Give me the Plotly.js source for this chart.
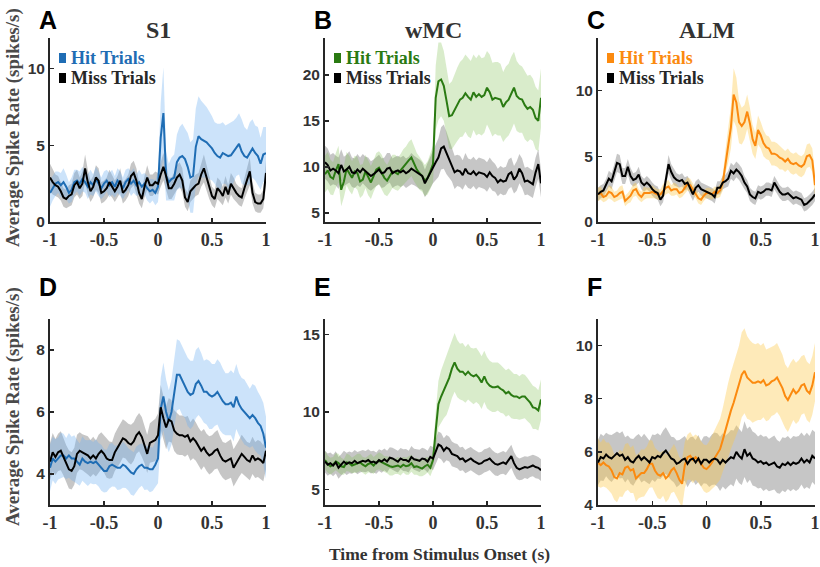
<!DOCTYPE html>
<html><head><meta charset="utf-8">
<script src="https://cdn.plot.ly/plotly-3.0.1.min.js"></script>
<style>html,body{margin:0;padding:0;background:#fff;}#chart{width:820px;height:567px;}</style>
</head><body><div id="chart"></div>
<script>
// ---- time grid (s) ----
const timeS = Array.from({length:81}, (_,k)=> +(-1+0.025*k).toFixed(3));

// ---- S1 (A, D) ----
const S1_top_hit = [1.9,2.2,2.5,2.6,2.4,2.6,2.3,1.9,2.1,2.6,2.7,2.5,2.8,2.6,2.3,2.6,2.4,2.8,2.5,2.2,2.5,2.7,2.4,2.6,2.3,2.7,2.5,2.2,2.6,2.8,2.5,2.7,2.4,2.6,2.3,2.5,2.2,2.0,2.1,1.9,2.3,5.5,7.1,3.0,2.6,2.8,2.9,3.9,4.2,4.3,4.1,3.6,2.9,3.0,4.9,5.6,5.4,5.3,5.2,5.0,4.8,4.5,4.3,4.2,4.5,4.4,4.3,4.35,4.6,4.9,5.1,4.6,4.3,4.2,4.5,4.8,4.5,4.3,3.8,4.4,4.5];
const S1_top_hitSem = [0.9,0.8,0.8,0.7,0.8,0.9,0.8,0.7,0.8,0.8,0.7,0.8,0.8,0.7,0.8,0.8,0.7,0.8,0.8,0.7,0.8,0.7,0.8,0.8,0.7,0.8,0.8,0.7,0.8,0.7,0.8,0.8,0.7,0.8,0.8,0.7,0.8,0.8,0.7,0.8,1.0,2.3,3.0,1.6,1.2,1.4,1.5,1.8,2.0,2.1,2.0,2.2,2.3,2.4,2.5,2.6,2.5,2.4,2.3,2.2,2.1,2.0,2.1,2.2,2.0,1.9,2.1,2.2,2.0,1.9,2.0,2.1,1.9,1.8,2.0,1.9,1.8,1.9,1.7,1.8,1.7];
const S1_top_miss = [2.9,2.6,2.4,2.3,2.0,1.6,1.5,1.7,1.8,2.4,2.6,2.2,2.5,3.5,2.6,2.0,2.3,2.9,2.7,1.9,2.0,2.2,2.6,2.3,2.0,2.3,2.7,1.9,2.1,2.4,3.0,3.2,2.7,1.9,1.5,2.3,2.9,2.4,2.4,2.6,2.5,3.1,3.6,3.0,2.2,2.2,2.5,2.9,3.1,2.7,1.6,1.3,2.0,2.2,2.4,2.5,3.1,3.5,2.9,2.2,1.7,1.5,2.2,2.0,1.7,2.3,1.8,2.5,2.2,1.9,1.7,1.6,2.2,2.8,3.3,1.9,1.3,1.2,1.2,1.5,3.2];
const S1_top_missSem = [0.9,0.8,0.7,0.7,0.6,0.6,0.6,0.7,0.7,0.8,0.8,0.7,0.8,0.9,0.8,0.7,0.7,0.8,0.8,0.7,0.7,0.7,0.8,0.7,0.7,0.7,0.8,0.7,0.7,0.7,0.8,0.8,0.8,0.7,0.6,0.7,0.8,0.7,0.7,0.7,0.7,0.8,0.9,0.8,0.7,0.7,0.7,0.8,0.8,0.8,0.6,0.6,0.7,0.7,0.7,0.7,0.8,0.9,0.8,0.7,0.6,0.6,0.7,0.7,0.6,0.7,0.6,0.7,0.7,0.6,0.6,0.6,0.7,0.8,0.9,0.7,0.6,0.6,0.6,0.6,0.8];

const S1_bot_hit = [4.2,4.5,4.4,4.5,4.6,4.6,4.5,4.6,4.5,4.5,4.4,4.3,4.5,4.4,4.35,4.4,4.35,4.4,4.3,4.2,4.1,4.1,4.25,4.3,4.25,4.2,4.2,4.3,4.25,4.15,4.05,4.0,4.15,4.25,4.3,4.2,4.2,4.15,4.15,4.3,4.5,6.1,6.5,6.0,5.7,6.0,6.6,7.2,7.2,7.0,6.85,6.65,6.55,6.6,6.9,7.0,6.85,6.65,6.65,6.55,6.5,6.55,6.65,6.5,6.35,6.25,6.25,6.3,6.15,6.5,6.25,6.1,6.0,5.9,5.8,5.9,5.8,5.65,5.55,5.3,4.85];
const S1_bot_hitSem = [0.75,0.7,0.72,0.68,0.74,0.7,0.66,0.72,0.7,0.75,0.7,0.68,0.72,0.7,0.74,0.7,0.68,0.72,0.7,0.74,0.7,0.68,0.72,0.7,0.66,0.72,0.7,0.74,0.7,0.68,0.72,0.7,0.74,0.7,0.68,0.72,0.7,0.74,0.7,0.72,0.8,1.0,1.1,1.05,1.0,1.05,1.1,1.15,1.1,1.1,1.05,1.1,1.1,1.05,1.1,1.1,1.05,1.0,1.05,1.1,1.05,1.0,1.05,1.1,1.05,1.0,1.0,1.05,1.1,1.05,1.0,1.0,1.05,1.0,0.95,1.0,1.05,1.0,0.95,1.0,1.0];
const S1_bot_miss = [4.4,4.7,4.55,4.7,4.75,4.55,4.35,4.15,4.1,4.25,4.65,4.75,4.7,4.65,4.6,4.5,4.6,4.5,4.65,4.75,4.65,4.5,4.45,4.45,4.7,4.85,5.0,5.15,5.1,5.0,4.95,5.05,5.25,5.35,5.2,4.95,4.65,5.0,5.05,5.1,5.25,6.15,5.8,5.5,5.75,5.7,5.4,5.3,5.25,5.25,5.2,5.25,5.05,5.15,5.05,4.9,4.75,4.85,4.7,4.6,4.65,4.75,4.8,4.6,4.45,4.4,4.45,4.5,4.2,4.35,4.5,4.65,4.55,4.45,4.4,4.6,4.45,4.5,4.45,4.35,4.75];
const S1_bot_missSem = [0.6,0.62,0.58,0.6,0.63,0.6,0.58,0.62,0.6,0.6,0.62,0.6,0.58,0.6,0.62,0.6,0.6,0.58,0.62,0.6,0.6,0.62,0.6,0.58,0.6,0.62,0.64,0.62,0.6,0.62,0.64,0.62,0.6,0.62,0.64,0.6,0.62,0.64,0.66,0.68,0.7,0.72,0.72,0.7,0.7,0.68,0.66,0.66,0.64,0.64,0.64,0.62,0.62,0.64,0.62,0.6,0.62,0.6,0.6,0.62,0.6,0.6,0.62,0.6,0.58,0.6,0.6,0.62,0.6,0.58,0.6,0.62,0.6,0.58,0.6,0.6,0.58,0.6,0.6,0.58,0.6];

// ---- wMC (B, E) ----
const wMC_top_hit = [9.2,9.6,8.9,8.7,9.6,10.3,7.5,8.4,9.8,9.3,8.8,9.5,9.3,8.4,8.6,9.5,8.8,8.3,9.0,9.7,9.9,9.4,8.8,8.5,9.0,9.5,9.4,9.2,9.6,10.0,10.3,10.7,11.0,10.3,9.7,9.3,9.0,8.5,8.8,9.5,10.3,17.5,19.3,19.5,18.8,17.2,15.5,15.6,16.2,16.8,17.3,17.5,18.0,17.6,17.3,18.1,17.6,17.9,17.6,17.8,18.6,18.1,17.3,17.5,17.4,17.3,16.5,17.0,17.3,18.0,18.6,17.7,17.4,17.3,16.7,16.3,16.5,16.2,15.3,15.0,17.5];
const wMC_top_hitSem = [2.0,2.0,1.9,1.8,1.9,2.0,1.8,1.7,1.8,1.9,1.8,1.7,1.8,1.8,1.7,1.8,1.9,1.8,1.7,1.8,1.8,1.9,1.8,1.7,1.8,1.8,1.9,1.8,1.8,1.9,1.9,2.0,2.0,1.9,1.8,1.8,1.7,1.7,1.8,1.9,2.0,3.5,4.2,4.0,3.8,3.6,3.5,3.7,3.9,4.0,4.1,4.2,4.2,4.3,4.2,4.1,4.2,4.3,4.2,4.1,4.0,4.1,4.0,3.9,4.0,3.9,3.8,3.9,3.9,4.0,3.9,3.8,3.7,3.6,3.7,3.6,3.5,3.4,3.4,3.3,3.2];
const wMC_top_miss = [10.5,10.2,9.6,9.8,9.6,9.3,10.2,9.5,9.7,10.0,9.4,9.3,9.7,9.4,9.8,9.5,9.3,9.0,9.2,9.5,9.7,9.3,9.4,9.8,9.9,9.3,9.5,9.6,9.4,9.6,9.3,9.5,9.8,9.6,9.4,9.2,9.0,8.2,8.8,9.4,10.0,10.5,11.0,12.0,12.2,11.5,10.9,10.3,9.4,9.6,9.5,9.1,9.8,9.3,9.2,9.5,9.1,9.4,9.3,9.2,8.9,9.4,9.0,8.8,8.3,8.6,8.4,8.5,9.2,9.4,8.6,9.0,9.8,9.3,8.4,8.5,8.3,8.1,9.4,10.3,8.2];
const wMC_top_missSem = [1.8,1.8,1.7,1.7,1.6,1.7,1.7,1.6,1.6,1.7,1.6,1.6,1.7,1.6,1.6,1.6,1.7,1.6,1.6,1.6,1.6,1.6,1.6,1.7,1.6,1.6,1.6,1.6,1.6,1.6,1.6,1.6,1.7,1.6,1.6,1.6,1.5,1.5,1.6,1.7,1.8,1.9,2.1,2.3,2.4,2.3,2.1,1.9,1.8,1.7,1.7,1.6,1.7,1.6,1.6,1.6,1.6,1.6,1.6,1.6,1.6,1.6,1.6,1.5,1.5,1.5,1.5,1.5,1.6,1.6,1.5,1.6,1.6,1.6,1.5,1.5,1.5,1.5,1.6,1.6,1.5];

const wMC_bot_hit = [6.9,6.65,6.5,6.6,6.8,6.7,6.5,6.45,6.75,6.7,6.55,6.6,6.7,6.75,6.6,6.5,6.65,6.7,6.55,6.75,6.85,6.75,6.65,6.6,6.5,6.45,6.5,6.55,6.45,6.6,6.5,6.55,6.7,6.45,6.5,6.4,6.35,6.5,6.6,6.4,6.9,8.8,10.5,11.0,11.4,11.7,12.2,12.8,13.2,12.8,12.6,12.6,12.4,12.6,12.4,12.3,12.4,12.2,11.9,12.3,11.9,11.7,11.6,11.6,11.65,11.5,11.4,11.2,11.3,11.1,11.0,11.0,10.9,11.0,11.0,10.8,10.6,10.3,10.25,10.1,10.8];
const wMC_bot_hitSem = [0.6,0.55,0.55,0.5,0.55,0.6,0.55,0.5,0.55,0.55,0.5,0.55,0.6,0.55,0.5,0.55,0.55,0.6,0.55,0.5,0.55,0.55,0.5,0.55,0.6,0.55,0.5,0.55,0.55,0.5,0.55,0.6,0.55,0.5,0.55,0.55,0.5,0.55,0.5,0.55,0.6,1.2,1.5,1.7,1.8,1.9,1.9,1.9,1.9,1.85,1.8,1.85,1.8,1.8,1.75,1.8,1.75,1.7,1.7,1.65,1.65,1.6,1.6,1.6,1.55,1.55,1.5,1.5,1.5,1.5,1.45,1.45,1.4,1.45,1.4,1.4,1.35,1.4,1.35,1.3,1.3];
const wMC_bot_miss = [6.8,6.6,6.7,6.55,6.75,6.4,6.6,6.8,6.65,6.75,6.7,6.85,6.7,6.8,6.85,6.8,6.9,6.75,6.8,6.7,6.9,6.8,6.95,6.8,7.05,7.0,6.9,6.8,7.0,6.9,6.9,6.8,7.1,6.95,6.9,6.85,7.0,6.95,6.8,7.1,7.0,7.4,7.9,7.8,7.5,7.7,7.6,7.3,7.2,7.15,6.95,7.0,6.8,6.9,7.0,6.85,6.75,6.65,6.7,6.85,6.9,7.0,6.8,6.65,6.6,6.7,6.75,6.65,6.9,7.15,6.7,6.4,6.3,6.35,6.45,6.4,6.5,6.55,6.45,6.4,6.25];
const wMC_bot_missSem = [0.7,0.72,0.68,0.7,0.72,0.7,0.68,0.7,0.72,0.7,0.68,0.7,0.72,0.7,0.7,0.68,0.7,0.72,0.7,0.68,0.7,0.72,0.7,0.7,0.68,0.7,0.72,0.7,0.68,0.7,0.72,0.7,0.7,0.68,0.7,0.72,0.7,0.68,0.7,0.72,0.75,0.8,0.85,0.85,0.8,0.82,0.8,0.8,0.78,0.78,0.76,0.76,0.75,0.76,0.75,0.74,0.75,0.74,0.74,0.75,0.74,0.74,0.73,0.74,0.73,0.72,0.74,0.73,0.72,0.74,0.72,0.72,0.7,0.72,0.7,0.72,0.7,0.7,0.72,0.7,0.7];

// ---- ALM (C, F) ----
const ALM_top_hit = [2.1,2.2,1.9,2.0,2.3,2.2,1.9,2.0,2.2,2.3,1.6,1.8,2.0,2.4,2.5,2.1,1.9,2.2,2.2,2.2,2.3,2.2,2.1,2.1,2.4,2.6,2.7,2.4,2.5,2.5,2.2,2.3,2.6,2.9,2.8,2.5,2.2,1.8,1.7,2.0,2.2,2.2,2.1,2.3,2.2,2.4,3.0,4.6,5.8,7.2,9.7,9.1,7.6,7.3,7.6,8.4,7.5,6.3,5.8,7.0,6.6,6.0,5.7,5.6,5.2,5.2,5.1,4.9,4.8,4.6,4.8,4.5,4.4,4.5,4.3,4.2,4.4,5.0,5.1,4.7,2.8];
const ALM_top_hitSem = [0.5,0.5,0.4,0.4,0.5,0.5,0.4,0.4,0.5,0.5,0.4,0.4,0.5,0.5,0.5,0.4,0.4,0.5,0.4,0.4,0.5,0.4,0.4,0.4,0.5,0.5,0.5,0.4,0.5,0.4,0.4,0.4,0.5,0.5,0.5,0.4,0.4,0.4,0.4,0.4,0.4,0.4,0.4,0.4,0.4,0.5,0.6,0.9,1.3,1.6,2.0,1.9,1.6,1.4,1.3,1.3,1.2,1.1,1.0,1.1,1.0,1.0,0.9,0.9,0.9,0.9,0.9,0.9,0.8,0.8,0.8,0.8,0.8,0.8,0.8,0.8,0.8,0.9,0.9,0.9,0.9];
const ALM_top_miss = [2.1,2.3,2.4,2.8,3.3,3.1,3.8,4.5,4.4,3.5,3.5,4.2,3.5,3.2,3.3,3.6,3.0,2.8,3.0,2.8,2.5,2.3,2.2,1.7,2.0,3.3,4.4,3.8,3.4,3.2,3.1,3.2,2.9,3.0,2.6,2.1,2.6,2.8,2.5,2.4,2.3,2.2,2.1,1.9,2.6,2.6,3.0,3.1,3.3,3.9,3.7,4.0,3.8,3.5,3.0,2.7,2.1,1.9,1.8,2.3,2.2,2.3,2.5,2.5,2.4,3.0,2.6,2.3,2.1,2.1,2.2,2.0,1.8,1.9,1.8,1.7,1.3,1.4,1.6,1.8,2.1];
const ALM_top_missSem = [0.5,0.5,0.5,0.5,0.6,0.6,0.6,0.7,0.7,0.6,0.6,0.6,0.6,0.5,0.5,0.6,0.5,0.5,0.5,0.5,0.5,0.5,0.5,0.5,0.5,0.6,0.7,0.6,0.6,0.5,0.5,0.5,0.5,0.5,0.5,0.5,0.5,0.5,0.5,0.5,0.5,0.5,0.5,0.5,0.5,0.5,0.5,0.5,0.6,0.6,0.6,0.6,0.6,0.6,0.5,0.5,0.5,0.5,0.5,0.5,0.5,0.5,0.5,0.5,0.5,0.5,0.5,0.5,0.5,0.5,0.5,0.5,0.5,0.5,0.5,0.5,0.5,0.5,0.5,0.5,0.5];

const ALM_bot_hit = [5.6,5.5,5.6,5.5,5.45,5.3,5.05,5.0,5.2,5.15,5.4,5.45,5.3,5.35,5.0,5.1,5.2,5.2,5.35,5.55,5.55,5.3,5.15,5.1,5.2,5.0,5.1,5.3,5.4,5.2,4.95,4.8,5.5,5.8,5.85,5.7,5.8,5.7,5.55,5.4,5.35,5.45,5.6,5.75,5.9,6.1,6.45,6.85,7.2,7.55,7.85,8.2,8.45,8.9,9.05,8.8,8.7,8.6,8.6,8.65,8.6,8.7,8.5,8.55,8.65,8.7,8.8,8.6,8.4,8.1,7.95,8.15,8.35,8.2,8.3,8.5,8.55,8.3,8.2,8.5,9.0];
const ALM_bot_hitSem = [0.9,0.85,0.9,0.85,0.9,0.88,0.85,0.9,0.88,0.85,0.9,0.88,0.85,0.9,0.88,0.85,0.9,0.88,0.85,0.9,0.88,0.85,0.9,0.88,0.85,0.9,0.88,0.85,0.9,0.88,0.85,0.9,0.88,0.85,0.9,0.88,0.85,0.88,0.85,0.88,0.9,0.95,1.0,1.05,1.1,1.15,1.2,1.3,1.4,1.45,1.5,1.55,1.55,1.6,1.6,1.55,1.5,1.5,1.45,1.45,1.4,1.4,1.35,1.35,1.3,1.3,1.3,1.25,1.25,1.2,1.2,1.2,1.15,1.15,1.15,1.1,1.1,1.1,1.1,1.1,1.1];
const ALM_bot_miss = [5.6,5.8,5.75,5.9,5.8,5.75,5.85,5.95,5.85,5.9,5.7,5.8,5.65,5.6,5.75,5.85,5.7,5.8,5.7,5.6,5.8,5.75,5.85,5.8,5.95,6.05,5.9,5.75,5.7,5.55,5.6,5.7,5.75,5.55,5.7,5.75,5.6,5.75,5.55,5.7,5.7,5.6,5.7,5.75,5.7,5.55,5.7,5.6,5.7,5.8,5.75,6.0,5.85,5.75,6.1,5.85,5.95,5.75,5.7,5.6,5.65,5.55,5.6,5.5,5.55,5.6,5.45,5.4,5.55,5.5,5.6,5.5,5.6,5.55,5.6,5.75,5.6,5.7,5.6,5.85,5.75];
const ALM_bot_missSem = [0.85,0.88,0.85,0.82,0.85,0.88,0.85,0.82,0.85,0.88,0.85,0.82,0.85,0.88,0.85,0.82,0.85,0.88,0.85,0.82,0.85,0.88,0.85,0.82,0.85,0.88,0.85,0.82,0.85,0.88,0.85,0.82,0.85,0.88,0.85,0.82,0.85,0.88,0.85,0.88,0.9,0.92,0.95,0.98,1.0,1.02,1.0,1.02,1.0,1.02,1.05,1.0,1.02,1.0,1.05,1.02,1.0,1.02,1.0,0.98,1.0,1.02,1.0,0.98,1.0,1.02,1.0,0.98,1.0,1.02,1.0,0.98,1.0,1.02,1.0,0.98,1.0,1.02,1.0,0.98,1.0];

// ---- labels ----
const regionTitles = ['S1','wMC','ALM'];
const panelLetters = ['A','B','C','D','E','F'];
const legendLabels = ['Hit Trials','Miss Trials'];
const xTickVals = [-1,-0.5,0,0.5,1];
const xTickText = ['-1','-0.5','0','0.5','1'];
const yRanges = [[0,12],[4,24],[0,14],[3,9],[4,16],[4,11]];
const yTicks = [[0,5,10],[5,10,15,20],[0,5,10],[4,6,8],[5,10,15],[4,6,8,10]];
const yTitle = 'Average Spike Rate (spikes/s)';
const xTitle = 'Time from Stimulus Onset (s)';

// ---- styling ----
const W = 820, H = 567;
const px = v => v / W, py = v => 1 - v / H;
const hitColors = ['#1f6db4', '#2a7a12', '#fb8a0f'];
const hitFills = ['rgba(110,175,240,0.35)', 'rgba(120,185,70,0.28)', 'rgba(252,200,70,0.38)'];
const missFill = 'rgba(120,120,120,0.42)';
const colX = [[50,266],[325,541],[598,815]];
const rowY = [[38,222],[319,505]];

const panels = [
  [S1_top_hit,S1_top_hitSem,S1_top_miss,S1_top_missSem],
  [wMC_top_hit,wMC_top_hitSem,wMC_top_miss,wMC_top_missSem],
  [ALM_top_hit,ALM_top_hitSem,ALM_top_miss,ALM_top_missSem],
  [S1_bot_hit,S1_bot_hitSem,S1_bot_miss,S1_bot_missSem],
  [wMC_bot_hit,wMC_bot_hitSem,wMC_bot_miss,wMC_bot_missSem],
  [ALM_bot_hit,ALM_bot_hitSem,ALM_bot_miss,ALM_bot_missSem]
];

const traces = [];
const layout = {
  width: W, height: H, margin: {l:0,r:0,t:0,b:0},
  paper_bgcolor: '#fff', plot_bgcolor: 'rgba(0,0,0,0)',
  showlegend: false, annotations: [], shapes: []
};
const serif = 'Liberation Serif, Times New Roman, serif';
const sans = 'Liberation Sans, Arial, sans-serif';

function band(mean, sem, xa, ya, fill) {
  const up = mean.map((v,i)=>v+sem[i]);
  const lo = mean.map((v,i)=>v-sem[i]);
  return {x: timeS.concat(timeS.slice().reverse()), y: up.concat(lo.reverse()),
    xaxis: xa, yaxis: ya, type:'scatter', mode:'lines', fill:'toself',
    fillcolor: fill, line:{width:0}, hoverinfo:'skip'};
}

panels.forEach((p, i) => {
  const col = i % 3, row = Math.floor(i / 3);
  const n = i === 0 ? '' : String(i + 1);
  const xa = 'x' + n, ya = 'y' + n;
  const [hit, hitSem, miss, missSem] = p;
  traces.push(band(miss, missSem, xa, ya, missFill));
  traces.push(band(hit, hitSem, xa, ya, hitFills[col]));
  traces.push({x: timeS, y: hit, xaxis: xa, yaxis: ya, type:'scatter', mode:'lines',
    line:{color: hitColors[col], width:2}});
  traces.push({x: timeS, y: miss, xaxis: xa, yaxis: ya, type:'scatter', mode:'lines',
    line:{color:'#000', width:2}});

  const axCommon = {showgrid:false, zeroline:false, showline:true, linecolor:'#262626',
    linewidth:2, ticks:'inside', ticklen:4, tickwidth:1.5, tickcolor:'#262626', fixedrange:true};
  layout['xaxis' + n] = Object.assign({}, axCommon, {
    domain:[px(colX[col][0]), px(colX[col][1])], anchor: ya, range:[-1,1],
    tickvals: xTickVals, ticktext: xTickText,
    tickfont:{family: serif, size:18, color:'#333', weight:700}});
  layout['yaxis' + n] = Object.assign({}, axCommon, {
    domain:[py(rowY[row][1]), py(rowY[row][0])], anchor: xa, range: yRanges[i],
    tickvals: yTicks[i], tickfont:{family: sans, size:15.5, color:'#333', weight:700}});

  // panel letter
  layout.annotations.push({text: panelLetters[i], xref:'paper', yref:'paper',
    x: px(colX[col][0] - 13), y: py(row === 0 ? 4 : 271), xanchor:'left', yanchor:'top', showarrow:false,
    font:{family: sans, size:25, color:'#000', weight:700}});
});

regionTitles.forEach((t, c) => {
  layout.annotations.push({text: t, xref:'paper', yref:'paper',
    x: px((colX[c][0] + colX[c][1]) / 2), y: py(15), xanchor:'center', yanchor:'top', showarrow:false,
    font:{family: serif, size:24, color:'#333', weight:700}});
  // legend
  const lx = colX[c][0] + 9;
  [[58, hitColors[c], legendLabels[0]], [78, '#000', legendLabels[1]]].forEach(([cy, colr, lab]) => {
    layout.shapes.push({type:'rect', xref:'paper', yref:'paper',
      x0: px(lx), x1: px(lx + 7), y0: py(cy + 5), y1: py(cy - 5),
      fillcolor: colr, line:{width:0}});
    layout.annotations.push({text: lab, xref:'paper', yref:'paper',
      x: px(lx + 10), y: py(cy), xanchor:'left', yanchor:'middle', showarrow:false,
      font:{family: serif, size:18, color: colr === '#000' ? '#262626' : colr, weight:700}});
  });
});

[128, 407].forEach(cy => {
  layout.annotations.push({text: yTitle, xref:'paper', yref:'paper', x: px(13), y: py(cy),
    xanchor:'center', yanchor:'middle', textangle:-90, showarrow:false,
    font:{family: serif, size:19, color:'#4a4a4a', weight:700}});
});
layout.annotations.push({text: xTitle, xref:'paper', yref:'paper', x: px(439), y: py(554),
  xanchor:'center', yanchor:'middle', showarrow:false,
  font:{family: serif, size:17.5, color:'#333', weight:700}});

Plotly.newPlot('chart', traces, layout, {displayModeBar:false, staticPlot:true});
</script></body></html>
